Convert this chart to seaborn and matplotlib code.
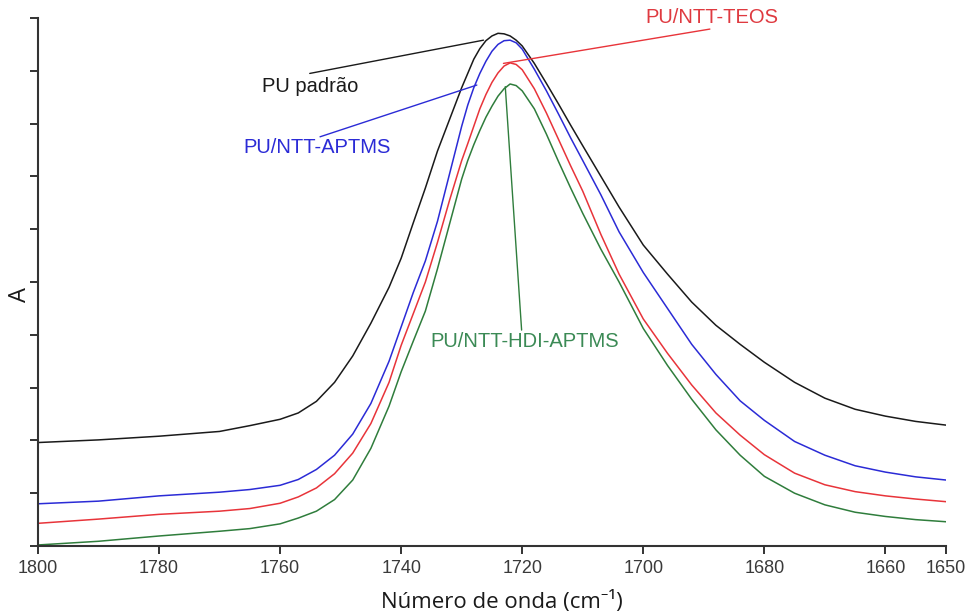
import numpy as np
import pandas as pd
import matplotlib
matplotlib.use("Agg")
import matplotlib.pyplot as plt
import seaborn as sns

# FTIR carbonyl band (absorbance, arbitrary units) for the four polyurethane samples
wn_padrao = [1800, 1790, 1780, 1770, 1765, 1760, 1757, 1754, 1751, 1748, 1745, 1742, 1740,
             1738, 1736, 1734, 1732, 1730, 1729, 1728, 1727, 1726, 1725, 1724, 1723, 1722,
             1721, 1720, 1718, 1716, 1714, 1712, 1710, 1707, 1704, 1700, 1696, 1692, 1688,
             1684, 1680, 1675, 1670, 1665, 1660, 1655, 1650]
abs_padrao = [1.96, 2.01, 2.08, 2.17, 2.28, 2.40, 2.52, 2.74, 3.10, 3.60, 4.22, 4.90, 5.45,
              6.12, 6.78, 7.48, 8.08, 8.68, 8.95, 9.22, 9.42, 9.57, 9.66, 9.71, 9.70, 9.66,
              9.58, 9.47, 9.14, 8.76, 8.37, 7.97, 7.58, 7.00, 6.42, 5.70, 5.15, 4.62, 4.18,
              3.82, 3.48, 3.10, 2.80, 2.59, 2.46, 2.36, 2.29]

wn_aptms = [1800, 1790, 1780, 1770, 1765, 1760, 1757, 1754, 1751, 1748, 1745, 1742, 1740,
            1738, 1736, 1734, 1732, 1730, 1729, 1728, 1727, 1726, 1725, 1724, 1723, 1722,
            1721, 1720, 1718, 1716, 1714, 1712, 1710, 1707, 1704, 1700, 1696, 1692, 1688,
            1684, 1680, 1675, 1670, 1665, 1660, 1655, 1650]
abs_aptms = [0.80, 0.85, 0.95, 1.02, 1.07, 1.15, 1.26, 1.45, 1.72, 2.12, 2.70, 3.50, 4.15,
             4.80, 5.40, 6.15, 7.05, 7.95, 8.35, 8.68, 8.95, 9.18, 9.37, 9.50, 9.57, 9.58,
             9.53, 9.41, 9.03, 8.62, 8.18, 7.73, 7.30, 6.65, 5.95, 5.18, 4.50, 3.82, 3.25,
             2.75, 2.38, 1.98, 1.72, 1.52, 1.40, 1.31, 1.25]

wn_teos = [1800, 1790, 1780, 1770, 1765, 1760, 1757, 1754, 1751, 1748, 1745, 1742, 1740,
           1738, 1736, 1734, 1732, 1730, 1729, 1728, 1727, 1726, 1725, 1724, 1723, 1722,
           1721, 1720, 1718, 1716, 1714, 1712, 1710, 1707, 1704, 1700, 1696, 1692, 1688,
           1684, 1680, 1675, 1670, 1665, 1660, 1655, 1650]
abs_teos = [0.43, 0.51, 0.60, 0.66, 0.71, 0.81, 0.93, 1.10, 1.37, 1.76, 2.32, 3.10, 3.80,
            4.40, 5.00, 5.75, 6.55, 7.30, 7.62, 7.95, 8.28, 8.55, 8.78, 8.96, 9.09, 9.15,
            9.12, 9.02, 8.66, 8.20, 7.70, 7.20, 6.72, 5.90, 5.15, 4.30, 3.65, 3.05, 2.52,
            2.10, 1.73, 1.38, 1.16, 1.03, 0.95, 0.89, 0.84]

wn_hdi = [1800, 1790, 1780, 1770, 1765, 1760, 1757, 1754, 1751, 1748, 1745, 1742, 1740,
          1738, 1736, 1734, 1732, 1730, 1729, 1728, 1727, 1726, 1725, 1724, 1723, 1722,
          1721, 1720, 1718, 1716, 1714, 1712, 1710, 1707, 1704, 1700, 1696, 1692, 1688,
          1684, 1680, 1675, 1670, 1665, 1660, 1655, 1650]
abs_hdi = [0.02, 0.09, 0.19, 0.28, 0.33, 0.42, 0.53, 0.66, 0.88, 1.25, 1.85, 2.65, 3.30,
           3.88, 4.45, 5.25, 6.10, 6.95, 7.30, 7.60, 7.87, 8.12, 8.33, 8.52, 8.66, 8.75,
           8.72, 8.62, 8.28, 7.80, 7.28, 6.78, 6.30, 5.62, 5.00, 4.12, 3.42, 2.78, 2.20,
           1.72, 1.32, 1.00, 0.78, 0.64, 0.56, 0.50, 0.46]

samples = ["PU padrão", "PU/NTT-APTMS", "PU/NTT-TEOS", "PU/NTT-HDI-APTMS"]
line_colors = ["#1a1a1a", "#2b2bd6", "#e8343a", "#2f7d3c"]
text_colors = ["#1a1a1a", "#2b2bd6", "#df3a40", "#3b8a55"]
x_ticks = [1800, 1780, 1760, 1740, 1720, 1700, 1680, 1660, 1650]

df = pd.concat([
    pd.DataFrame({"wn": wn_padrao, "A": abs_padrao, "amostra": samples[0]}),
    pd.DataFrame({"wn": wn_aptms, "A": abs_aptms, "amostra": samples[1]}),
    pd.DataFrame({"wn": wn_teos, "A": abs_teos, "amostra": samples[2]}),
    pd.DataFrame({"wn": wn_hdi, "A": abs_hdi, "amostra": samples[3]}),
], ignore_index=True)

sns.set_style("ticks")
plt.rcParams["font.family"] = ["Liberation Sans", "DejaVu Sans"]

fig = plt.figure(figsize=(9.76, 6.14), dpi=100)
ax = fig.add_axes([0.0389, 0.1107, 0.9303, 0.86])

sns.lineplot(data=df, x="wn", y="A", hue="amostra", hue_order=samples,
             palette=line_colors, sort=False, estimator=None, linewidth=1.1,
             legend=False, ax=ax)

ax.set_xlim(1800, 1650)
ax.set_ylim(0, 10)
ax.set_xticks(x_ticks)
ax.set_xticklabels([str(t) for t in x_ticks])
ax.set_yticks(range(0, 11))
ax.set_yticklabels([])
ax.tick_params(axis="x", direction="out", length=6, width=1.4, pad=4,
               labelsize=13, labelcolor="#3a3a3a", color="#333333")
ax.tick_params(axis="y", direction="out", length=6, width=1.4, color="#333333")
for side in ("top", "right"):
    ax.spines[side].set_visible(False)
for side in ("left", "bottom"):
    ax.spines[side].set_linewidth(1.5)
    ax.spines[side].set_color("#333333")

ax.set_ylabel("")
ax.set_xlabel("Número de onda (cm⁻¹)", family=["Open Sans", "Noto Sans", "DejaVu Sans"],
              fontsize=16, color="#1a1a1a", va="center")
ax.xaxis.set_label_coords(0.511, -0.106)
fig.text(20 / 976, 1 - 295 / 614, "A", family="Open Sans", fontsize=17,
         color="#1a1a1a", rotation=90, ha="center", va="center")

# leader lines from each label to its band maximum
leaders = [
    ((1755.1, 8.95), (1726.4, 9.58)),
    ((1753.4, 7.75), (1727.5, 8.73)),
    ((1689.0, 9.79), (1723.1, 9.14)),
    ((1720.1, 4.09), (1722.8, 8.70)),
]
labels_pos = [(1763.0, 8.71), (1766.0, 7.54), (1699.7, 10.0), (1735.2, 3.88)]
for (p0, p1), (tx, ty), name, lc, tc in zip(leaders, labels_pos, samples,
                                              line_colors, text_colors):
    ax.plot([p0[0], p1[0]], [p0[1], p1[1]], color=lc, linewidth=1.0)
    ax.text(tx, ty, name, color=tc, fontsize=14.5, ha="left", va="center",
            clip_on=False)

fig.savefig("out.png", dpi=100)
